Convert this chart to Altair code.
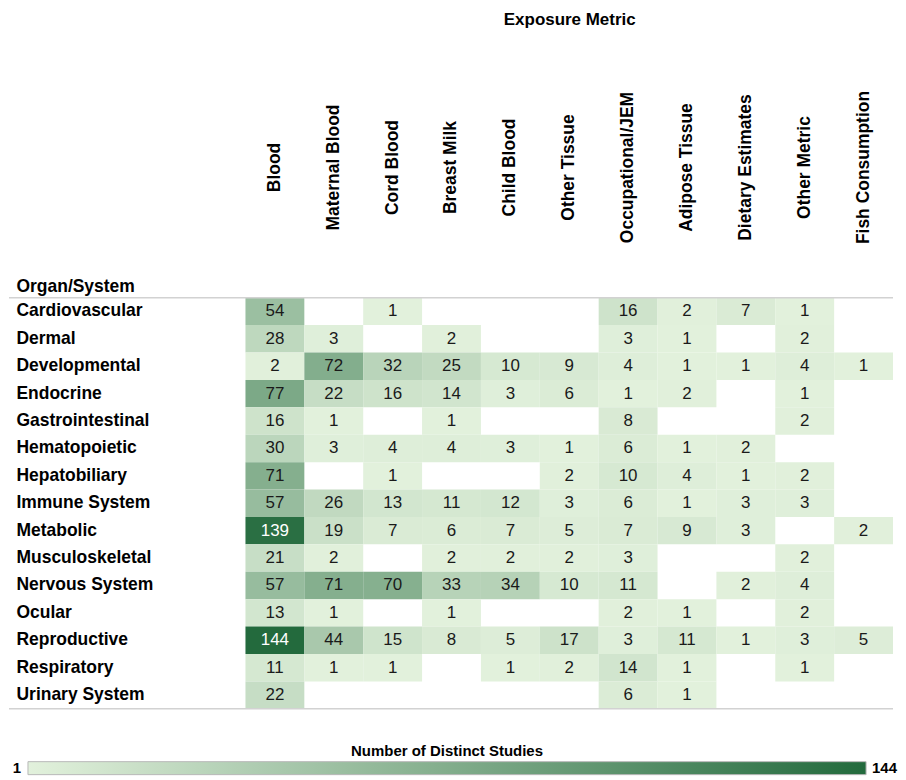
import altair as alt
import pandas as pd

metrics = ["Blood", "Maternal Blood", "Cord Blood", "Breast Milk", "Child Blood",
           "Other Tissue", "Occupational/JEM", "Adipose Tissue", "Dietary Estimates",
           "Other Metric", "Fish Consumption"]

organs = ["Cardiovascular", "Dermal", "Developmental", "Endocrine", "Gastrointestinal",
          "Hematopoietic", "Hepatobiliary", "Immune System", "Metabolic",
          "Musculoskeletal", "Nervous System", "Ocular", "Reproductive",
          "Respiratory", "Urinary System"]

cardiovascular = [54, None, 1, None, None, None, 16, 2, 7, 1, None]
dermal = [28, 3, None, 2, None, None, 3, 1, None, 2, None]
developmental = [2, 72, 32, 25, 10, 9, 4, 1, 1, 4, 1]
endocrine = [77, 22, 16, 14, 3, 6, 1, 2, None, 1, None]
gastrointestinal = [16, 1, None, 1, None, None, 8, None, None, 2, None]
hematopoietic = [30, 3, 4, 4, 3, 1, 6, 1, 2, None, None]
hepatobiliary = [71, None, 1, None, None, 2, 10, 4, 1, 2, None]
immune = [57, 26, 13, 11, 12, 3, 6, 1, 3, 3, None]
metabolic = [139, 19, 7, 6, 7, 5, 7, 9, 3, None, 2]
musculoskeletal = [21, 2, None, 2, 2, 2, 3, None, None, 2, None]
nervous = [57, 71, 70, 33, 34, 10, 11, None, 2, 4, None]
ocular = [13, 1, None, 1, None, None, 2, 1, None, 2, None]
reproductive = [144, 44, 15, 8, 5, 17, 3, 11, 1, 3, 5]
respiratory = [11, 1, 1, None, 1, 2, 14, 1, None, 1, None]
urinary = [22, None, None, None, None, None, 6, 1, None, None, None]

row_values = [cardiovascular, dermal, developmental, endocrine, gastrointestinal,
              hematopoietic, hepatobiliary, immune, metabolic, musculoskeletal,
              nervous, ocular, reproductive, respiratory, urinary]

color_domain = [1, 144]
color_range = ["#e2f1dc", "#236a3d"]

records = []
for organ, vals in zip(organs, row_values):
    for metric, v in zip(metrics, vals):
        if v is not None:
            records.append({"organ": organ, "metric": metric, "count": v})
df = pd.DataFrame(records)

W = 649
H = 412
BOLD = "Liberation Sans"
NARROW = "Liberation Sans Narrow, Liberation Sans"

LEG_X = -218
LEG_Y = 447
LEG_LEN = 840
LEG_THICK = 13
LEG_MID = LEG_Y + 18 + LEG_THICK / 2

x_enc = alt.X(
    "metric:N",
    sort=metrics,
    scale=alt.Scale(domain=metrics, paddingInner=0, paddingOuter=0),
    axis=alt.Axis(
        orient="top",
        title="Exposure Metric",
        titleFont=BOLD, titleFontSize=17, titleFontWeight="bold", titleColor="#000",
        titleX=W / 2, titleY=-279, titleAlign="center", titleBaseline="middle",
        labelAngle=270, labelAlign="center", labelBaseline="middle",
        labelPadding=131, labelFont=BOLD, labelFontSize=17.5, labelFontWeight="bold",
        labelColor="#000", labelLimit=300,
        ticks=False, tickSize=0, domain=False, grid=False,
    ),
)

y_enc = alt.Y(
    "organ:N",
    sort=organs,
    scale=alt.Scale(domain=organs, paddingInner=0, paddingOuter=0),
    axis=alt.Axis(
        title="Organ/System",
        titleFont=BOLD, titleFontSize=17.5, titleFontWeight="bold", titleColor="#000",
        titleAngle=0, titleX=-230, titleY=-11, titleAlign="left", titleBaseline="middle",
        labelAlign="left", labelBaseline="middle", labelPadding=230,
        labelFont=BOLD, labelFontSize=17.5, labelFontWeight="bold", labelColor="#000",
        labelLimit=300,
        ticks=False, tickSize=0, domain=False, grid=False,
    ),
)

legend = alt.Legend(
    orient="none", direction="horizontal",
    legendX=LEG_X, legendY=LEG_Y,
    title="Number of Distinct Studies",
    titleFont=BOLD, titleFontSize=15, titleFontWeight="bold", titleColor="#000",
    titleAnchor="middle", titlePadding=3, titleLimit=600,
    gradientLength=LEG_LEN, gradientThickness=LEG_THICK,
    gradientStrokeColor="#b8b8b8", gradientStrokeWidth=1,
    values=color_domain,
    labelExpr="''", labelFontSize=0, labelOffset=0,
)

rects = alt.Chart(df).mark_rect().encode(
    x=x_enc,
    y=y_enc,
    color=alt.Color(
        "count:Q",
        scale=alt.Scale(domain=color_domain, range=color_range, interpolate="rgb"),
        legend=legend,
    ),
)

labels = alt.Chart(df).mark_text(
    font=NARROW, fontSize=17, align="center", baseline="middle"
).encode(
    x=x_enc,
    y=y_enc,
    text=alt.Text("count:Q"),
    color=alt.when(alt.datum.count > 100).then(alt.value("#ffffff")).otherwise(alt.value("#1a1a1a")),
)

edge = pd.DataFrame({"k": [0]})
top_rule = alt.Chart(edge).mark_rule(color="#d2d2d2", strokeWidth=1.5).encode(
    x=alt.value(-237), x2=alt.value(W), y=alt.value(0)
)
bottom_rule = alt.Chart(edge).mark_rule(color="#d2d2d2", strokeWidth=1.5).encode(
    x=alt.value(-237), x2=alt.value(W), y=alt.value(H)
)

leg_min = alt.Chart(pd.DataFrame({"v": [color_domain[0]]})).mark_text(
    font=BOLD, fontSize=15, fontWeight="bold", color="#000", align="right", baseline="middle"
).encode(text="v:Q", x=alt.value(LEG_X - 7), y=alt.value(LEG_MID))

leg_max = alt.Chart(pd.DataFrame({"v": [color_domain[1]]})).mark_text(
    font=BOLD, fontSize=15, fontWeight="bold", color="#000", align="left", baseline="middle"
).encode(text="v:Q", x=alt.value(LEG_X + LEG_LEN + 6), y=alt.value(LEG_MID))

chart = alt.layer(rects, labels, top_rule, bottom_rule, leg_min, leg_max).properties(
    width=W, height=H,
    padding={"left": 0, "top": 1.5, "right": 0, "bottom": 0},
    background="white",
).configure_view(strokeWidth=0)

chart.save("out.html", embed_options={"renderer": "svg", "actions": False})
